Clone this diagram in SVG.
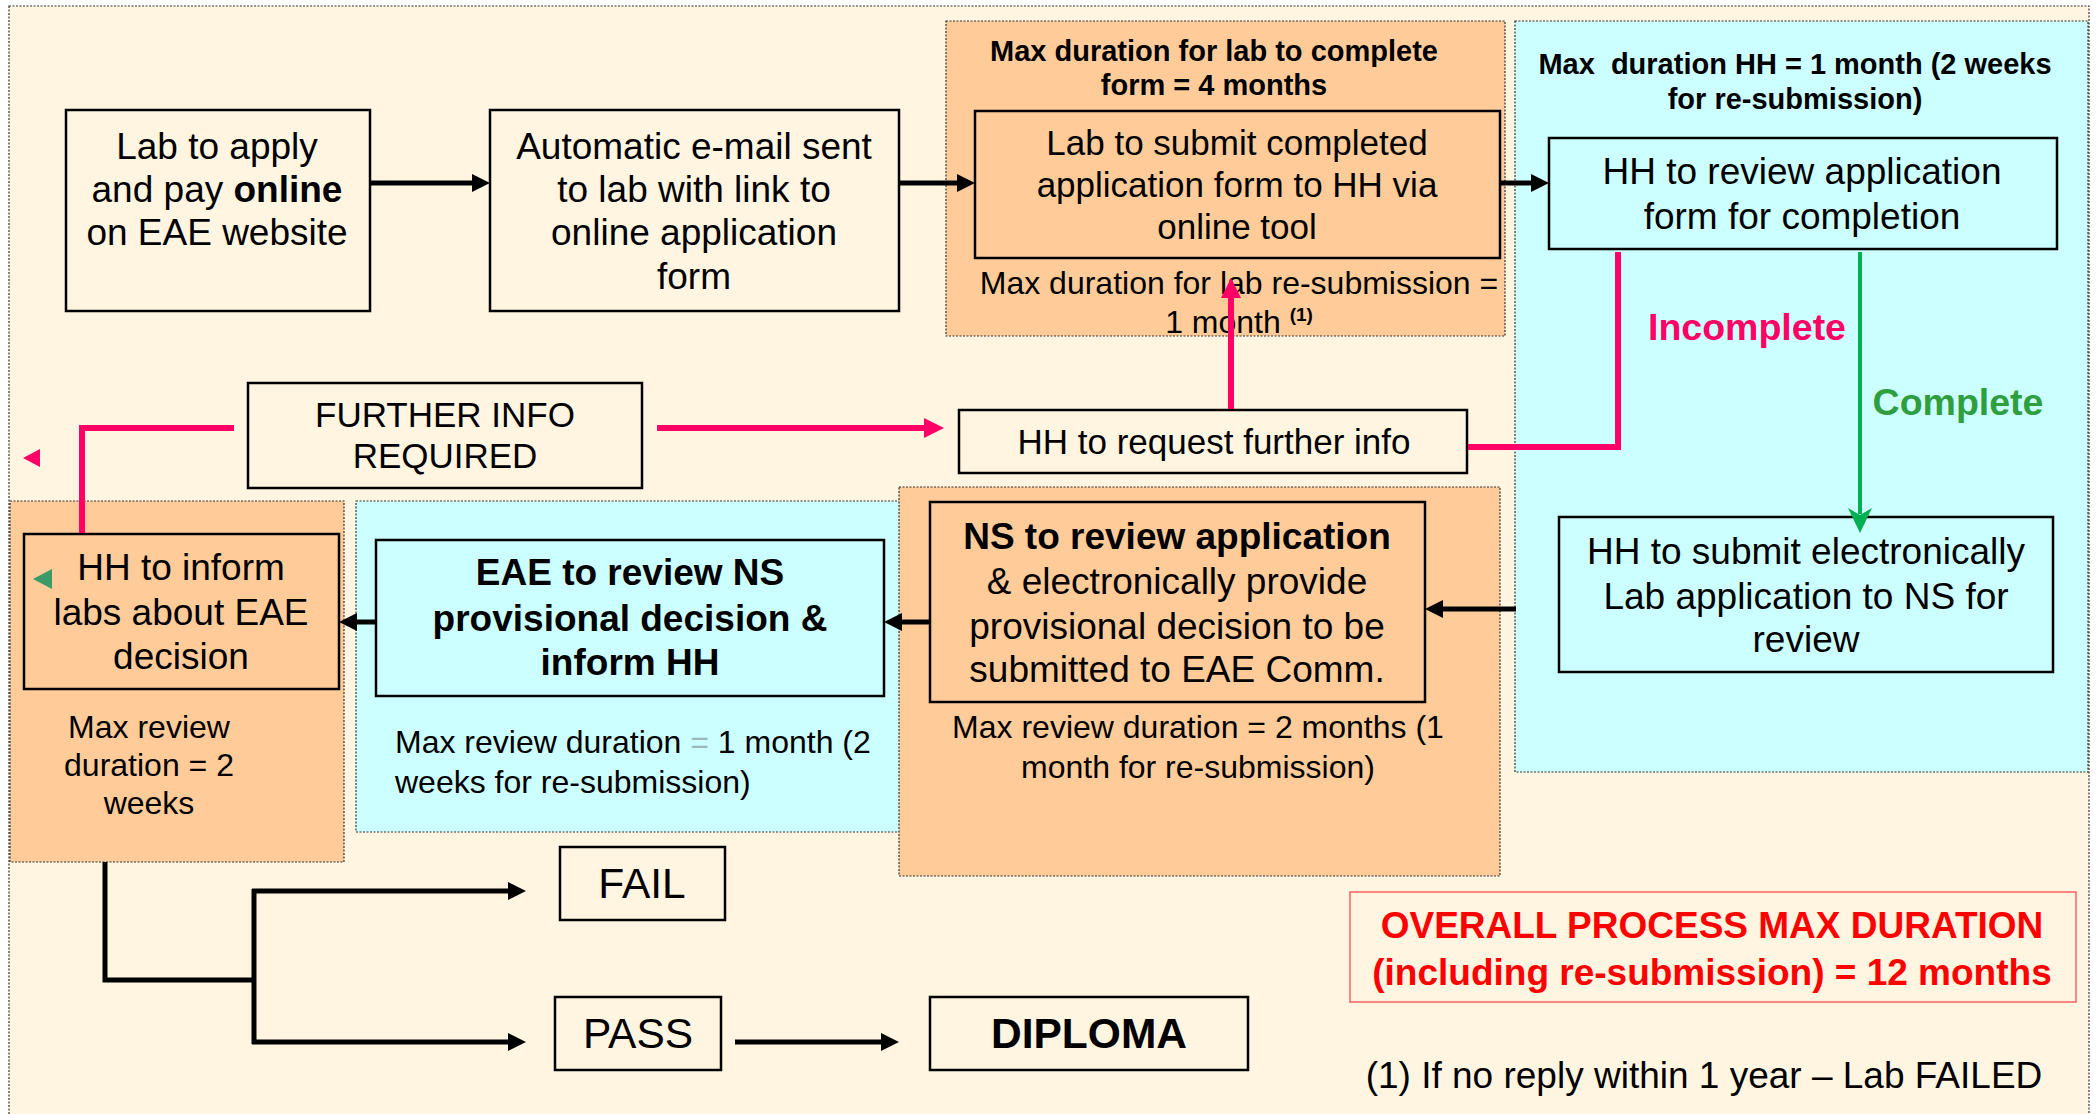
<svg xmlns="http://www.w3.org/2000/svg" width="2096" height="1114" viewBox="0 0 2096 1114">
<style>
.t{font-family:"Liberation Sans",Arial,Helvetica,sans-serif;fill:#000;text-anchor:middle}
.b{font-weight:bold}
.s37{font-size:37px}
.s35{font-size:35px}
.s32{font-size:32px}
.s29{font-size:29px}
.s42{font-size:42.5px}
.cream{fill:#FFF5E0}
.box{stroke:#000;stroke-width:2.5}
.rego{fill:#FFCC99;stroke:#333;stroke-width:1.2;stroke-dasharray:2 1.5}
.regc{fill:#CCFFFF;stroke:#333;stroke-width:1.2;stroke-dasharray:2 1.5}
.fo{fill:#FFCC99}
.fc{fill:#CCFFFF}
.blk{stroke:#000;stroke-width:5;fill:none}
.pnk{stroke:#FF0066;stroke-width:6;fill:none}
.grn{stroke:#00B050;stroke-width:4;fill:none}
</style>
<defs>
<marker id="ab" markerUnits="userSpaceOnUse" markerWidth="18" markerHeight="18" refX="1" refY="9" orient="auto"><path d="M0,0 L18,9 L0,18 z" fill="#000"/></marker>
<marker id="ap" markerUnits="userSpaceOnUse" markerWidth="20" markerHeight="20" refX="1" refY="10" orient="auto"><path d="M0,0 L20,10 L0,20 z" fill="#FF0066"/></marker>
<marker id="ag" markerUnits="userSpaceOnUse" markerWidth="25" markerHeight="24" refX="6" refY="12" orient="auto"><path d="M0,0 L25,12 L0,24 L7,12 z" fill="#00B050"/></marker>
</defs>
<rect x="0" y="0" width="2096" height="1114" fill="#fff"/>
<rect x="9" y="6" width="2080" height="1120" class="cream" stroke="#333" stroke-width="1.2" stroke-dasharray="2 1.5"/>

<g id="regions">
<rect x="946" y="21" width="559" height="315" class="rego"/>
<rect x="1515" y="21" width="573" height="751" class="regc"/>
<rect x="356" y="501" width="560" height="331" class="regc"/>
<rect x="10" y="501" width="334" height="361" class="rego"/>
<rect x="899" y="487" width="601" height="389" class="rego"/>
</g>

<g id="region-labels">
<text class="t b s29" x="1214" y="61">Max duration for lab to complete</text>
<text class="t b s29" x="1214" y="95">form = 4 months</text>
<text class="t b s29" x="1795" y="74">Max&#160; duration HH = 1 month (2 weeks</text>
<text class="t b s29" x="1795" y="109">for re-submission)</text>
<text class="t s32" x="1239" y="294">Max duration for lab re-submission =</text>
<text class="t s32" x="1239" y="333">1 month <tspan class="b" font-size="19" dy="-12">(1)</tspan></text>
<text class="t s32" x="149" y="738">Max review</text>
<text class="t s32" x="149" y="776">duration = 2</text>
<text class="t s32" x="149" y="814">weeks</text>
<text class="t s32" x="395" y="753" style="text-anchor:start">Max review duration <tspan fill="#9BB8B8">=</tspan> 1 month (2</text>
<text class="t s32" x="395" y="793" style="text-anchor:start">weeks for re-submission)</text>
<text class="t s32" x="1198" y="738">Max review duration = 2 months (1</text>
<text class="t s32" x="1198" y="778">month for re-submission)</text>
</g>

<g id="n-apply">
<rect x="66" y="110" width="304" height="201" class="box cream"/>
<text class="t s37" x="217" y="159">Lab to apply</text>
<text class="t s37" x="217" y="202">and pay <tspan class="b">online</tspan></text>
<text class="t s37" x="217" y="245">on EAE website</text>
</g>
<g id="n-email">
<rect x="490" y="110" width="409" height="201" class="box cream"/>
<text class="t s37" x="694" y="159">Automatic e-mail sent</text>
<text class="t s37" x="694" y="202">to lab with link to</text>
<text class="t s37" x="694" y="245">online application</text>
<text class="t s37" x="694" y="289">form</text>
</g>
<g id="n-submit">
<rect x="975" y="111" width="525" height="147" class="box fo"/>
<text class="t s35" x="1237" y="155">Lab to submit completed</text>
<text class="t s35" x="1237" y="197">application form to HH via</text>
<text class="t s35" x="1237" y="239">online tool</text>
</g>
<g id="n-review-hh">
<rect x="1549" y="138" width="508" height="111" class="box fc"/>
<text class="t s37" x="1802" y="184">HH to review application</text>
<text class="t s37" x="1802" y="229">form for completion</text>
</g>
<g id="n-further">
<rect x="248" y="383" width="394" height="105" class="box cream"/>
<text class="t s35" x="445" y="427">FURTHER INFO</text>
<text class="t s35" x="445" y="468">REQUIRED</text>
</g>
<g id="n-request">
<rect x="959" y="410" width="508" height="63" class="box cream"/>
<text class="t s35" x="1214" y="454">HH to request further info</text>
</g>
<g id="n-inform">
<rect x="24" y="534" width="315" height="155" class="box fo"/>
<polygon points="33,579 52,569 52,589" fill="#3A9A6A"/>
<text class="t s37" x="181" y="580">HH to inform</text>
<text class="t s37" x="181" y="625">labs about EAE</text>
<text class="t s37" x="181" y="669">decision</text>
</g>
<g id="n-eae">
<rect x="376" y="540" width="508" height="156" class="box fc"/>
<text class="t b s37" x="630" y="585">EAE to review NS</text>
<text class="t b s37" x="630" y="631">provisional decision &amp;</text>
<text class="t b s37" x="630" y="675">inform HH</text>
</g>
<g id="n-ns">
<rect x="930" y="502" width="495" height="200" class="box fo"/>
<text class="t b s37" x="1177" y="549">NS to review application</text>
<text class="t s37" x="1177" y="594">&amp; electronically provide</text>
<text class="t s37" x="1177" y="639">provisional decision to be</text>
<text class="t s37" x="1177" y="682">submitted to EAE Comm.</text>
</g>
<g id="n-submit-ns">
<rect x="1559" y="517" width="494" height="155" class="box fc"/>
<text class="t s37" x="1806" y="564">HH to submit electronically</text>
<text class="t s37" x="1806" y="609">Lab application to NS for</text>
<text class="t s37" x="1806" y="652">review</text>
</g>
<g id="labels">
<text class="t b" font-size="37.5" x="1747" y="340" style="fill:#FF0066">Incomplete</text>
<text class="t b" font-size="37.5" x="1958" y="415" style="fill:#2E9E3E">Complete</text>
</g>
<g id="n-fail">
<rect x="560" y="847" width="165" height="73" class="box cream"/>
<text class="t s42" x="642" y="898">FAIL</text>
</g>
<g id="n-pass">
<rect x="555" y="997" width="166" height="73" class="box cream"/>
<text class="t s42" x="638" y="1048">PASS</text>
</g>
<g id="n-diploma">
<rect x="930" y="997" width="318" height="73" class="box cream"/>
<text class="t b s42" x="1089" y="1048">DIPLOMA</text>
</g>
<g id="n-overall">
<rect x="1350" y="892" width="726" height="110" fill="#FFF5E0" stroke="#FF6060" stroke-width="1.5"/>
<text class="t b" font-size="37" x="1712" y="938" style="fill:#FF0000">OVERALL PROCESS MAX DURATION</text>
<text class="t b" font-size="37" x="1712" y="985" style="fill:#FF0000">(including re-submission) = 12 months</text>
</g>
<g id="note">
<text class="t" font-size="37" x="1704" y="1088">(1) If no reply within 1 year – Lab FAILED</text>
</g>

<g id="connectors">
<line class="blk" x1="370" y1="183" x2="473" y2="183" marker-end="url(#ab)"/>
<line class="blk" x1="899" y1="183" x2="958" y2="183" marker-end="url(#ab)"/>
<line class="blk" x1="1500" y1="183" x2="1532" y2="183" marker-end="url(#ab)"/>
<polyline class="pnk" points="1618,252 1618,447 1468,447"/>
<line class="pnk" x1="1231" y1="409" x2="1231" y2="297" marker-end="url(#ap)"/>
<line class="pnk" x1="657" y1="428" x2="925" y2="428" marker-end="url(#ap)"/>
<polyline class="pnk" points="82,533 82,428 234,428"/>
<line class="grn" x1="1860" y1="252" x2="1860" y2="514" marker-end="url(#ag)"/>
<line class="blk" x1="1516" y1="609" x2="1442" y2="609" marker-end="url(#ab)"/>
<line class="blk" x1="930" y1="622" x2="901" y2="622" marker-end="url(#ab)"/>
<line class="blk" x1="376" y1="622" x2="356" y2="622" marker-end="url(#ab)"/>
<polyline class="blk" points="105,862 105,980 254,980"/>
<line class="blk" x1="254" y1="889" x2="254" y2="1044"/>
<line class="blk" x1="252" y1="891" x2="509" y2="891" marker-end="url(#ab)"/>
<line class="blk" x1="252" y1="1042" x2="509" y2="1042" marker-end="url(#ab)"/>
<line class="blk" x1="735" y1="1042" x2="882" y2="1042" marker-end="url(#ab)"/>
<polygon points="23,458 40,449 40,467" fill="#FF0066"/>
</g>
</svg>
